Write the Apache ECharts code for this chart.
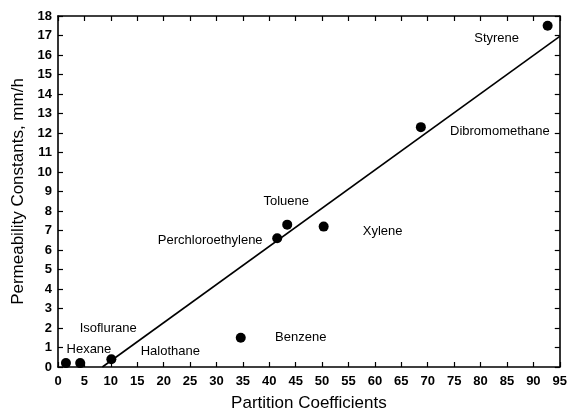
<!DOCTYPE html>
<html>
<head>
<meta charset="utf-8">
<script src="https://cdn.jsdelivr.net/npm/echarts@6/dist/echarts.min.js"></script>
<style>html,body{margin:0;padding:0;background:#fff}#c{width:570px;height:417px}</style>
</head>
<body>
<div id="c"></div>
<script>
const names = ['Hexane','Isoflurane','Halothane','Benzene','Perchloroethylene','Toluene','Xylene','Dibromomethane','Styrene'];
const partition = [1.5, 4.2, 10.1, 34.6, 41.5, 43.4, 50.3, 68.7, 92.7];
const permeability = [0.2, 0.2, 0.4, 1.5, 6.6, 7.3, 7.2, 12.3, 17.5];
const fitX = [8.4, 95];
const fitY = [0, 16.95];
const xTitle = 'Partition Coefficients';
const yTitle = 'Permeability Constants, mm/h';

const labelOffsets = {
  'Hexane':[23,-14], 'Isoflurane':[28,-35], 'Halothane':[59,-8], 'Benzene':[60,0],
  'Perchloroethylene':[-67,2], 'Toluene':[-1,-23], 'Xylene':[59,5],
  'Dibromomethane':[79,4], 'Styrene':[-51,13]
};
const font = 'Liberation Sans, Arial, sans-serif';
const axisLine = {show:true, onZero:false, lineStyle:{color:'#000', width:1.6}};
const tick = {show:true, inside:true, length:5, lineStyle:{color:'#000', width:1.2}};

const chart = echarts.init(document.getElementById('c'));
chart.setOption({
  animation:false,
  backgroundColor:'#fff',
  grid:{left:58, right:10, top:16, bottom:47},
  xAxis:[{
    type:'value', min:0, max:95, interval:5, position:'bottom',
    name:xTitle, nameLocation:'middle', nameGap:28,
    nameTextStyle:{fontFamily:font, fontSize:17, color:'#000'},
    axisLine:axisLine, axisTick:tick, splitLine:{show:false},
    axisLabel:{fontFamily:font, fontSize:13, fontWeight:'bold', color:'#000', margin:8}
  },{
    type:'value', min:0, max:95, interval:5, position:'top',
    axisLine:axisLine, axisTick:tick, splitLine:{show:false},
    axisLabel:{show:false}
  }],
  yAxis:[{
    type:'value', min:0, max:18, interval:1, position:'left',
    name:yTitle, nameLocation:'middle', nameGap:29, nameRotate:90,
    nameTextStyle:{fontFamily:font, fontSize:17, color:'#000'},
    axisLine:axisLine, axisTick:tick, splitLine:{show:false},
    axisLabel:{fontFamily:font, fontSize:13, fontWeight:'bold', color:'#000', margin:6}
  },{
    type:'value', min:0, max:18, interval:1, position:'right',
    axisLine:axisLine, axisTick:tick, splitLine:{show:false},
    axisLabel:{show:false}
  }],
  series:[{
    type:'line',
    data:fitX.map((x,i)=>[x, fitY[i]]),
    symbol:'none',
    lineStyle:{color:'#000', width:1.6},
    z:2
  },{
    type:'scatter',
    symbol:'circle', symbolSize:10,
    itemStyle:{color:'#000', opacity:1},
    data:names.map((n,i)=>({
      name:n, value:[partition[i], permeability[i]],
      label:{show:true, position:'inside', offset:labelOffsets[n], formatter:n,
        fontFamily:font, fontSize:13, color:'#000'}
    })),
    z:3
  }]
});
</script>
</body>
</html>
